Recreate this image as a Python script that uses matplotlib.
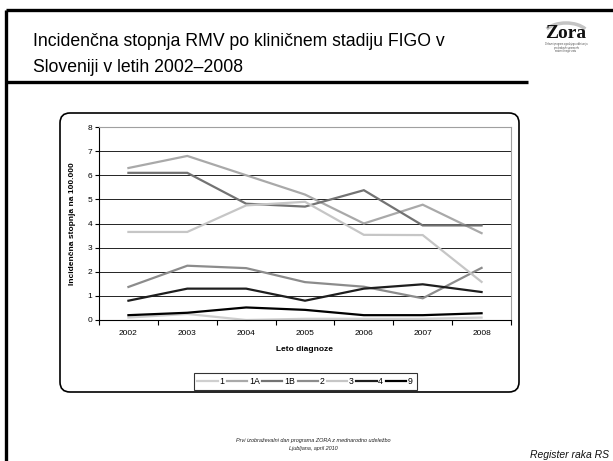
import matplotlib
matplotlib.use("Agg")
import matplotlib.pyplot as plt
from matplotlib.patches import FancyBboxPatch, Arc
import numpy as np

plt.rcParams['font.family'] = ['Liberation Sans', 'DejaVu Sans']

# ---- data ----
years = ["2002", "2003", "2004", "2005", "2006", "2007", "2008"]
series_names = ["1", "1A", "1B", "2", "3", "4", "9"]
s_1 = [0.10, 0.25, 0.00, 0.05, 0.05, 0.05, 0.10]
s_1A = [6.30, 6.80, 6.00, 5.20, 4.00, 4.78, 3.60]
s_1B = [6.10, 6.10, 4.82, 4.70, 5.38, 3.92, 3.92]
s_2 = [1.37, 2.25, 2.15, 1.57, 1.38, 0.90, 2.16]
s_3 = [3.65, 3.65, 4.75, 4.90, 3.53, 3.52, 1.58]
s_4 = [0.80, 1.30, 1.30, 0.80, 1.30, 1.48, 1.16]
s_9 = [0.20, 0.30, 0.52, 0.42, 0.20, 0.20, 0.28]
yticks = [0, 1, 2, 3, 4, 5, 6, 7, 8]

title_lines = ["Incidenčna stopnja RMV po kliničnem stadiju FIGO v",
               "Sloveniji v letih 2002–2008"]
ylabel = "Incidenčna stopnja na 100.000"
xlabel = "Leto diagnoze"
footer1 = "Prvi izobraževalni dan programa ZORA z mednarodno udeležbo"
footer2 = "Ljubljana, april 2010"
footer_right = "Register raka RS"

colors = ["#cfcfcf", "#a9a9a9", "#737373", "#8c8c8c", "#c6c6c6", "#1e1e1e", "#000000"]
all_series = [s_1, s_1A, s_1B, s_2, s_3, s_4, s_9]

W, H = 613, 461
fig = plt.figure(figsize=(W / 100, H / 100), dpi=100)

# overlay axes in pixel coordinates
bg = fig.add_axes([0, 0, 1, 1])
bg.set_xlim(0, W)
bg.set_ylim(H, 0)
bg.axis("off")

# slide frame
bg.plot([6, W], [10, 10], color="black", lw=2.4, solid_capstyle="butt")
bg.plot([6, 6], [10, H], color="black", lw=2.4, solid_capstyle="butt")
bg.plot([6, 528], [82, 82], color="black", lw=2.4, solid_capstyle="butt")

bg.text(33, 42, title_lines[0], fontsize=12.7, va="center", ha="left")
bg.text(33, 68, title_lines[1], fontsize=12.7, va="center", ha="left")

# logo
bg.add_patch(Arc((566, 36), 46, 26, theta1=200, theta2=340, color="#c4c4c4", lw=2.5))
bg.text(566, 33, "Zora", fontsize=14, family=["Liberation Serif", "DejaVu Serif"],
        fontweight="bold", ha="center", va="center", color="#111111")
bg.text(566, 44, "Državni program zgodnjega odkrivanja", fontsize=1.8, ha="center", va="center", color="#555555")
bg.text(566, 47.5, "predrakavih sprememb", fontsize=1.8, ha="center", va="center", color="#555555")
bg.text(566, 51, "materničnega vratu", fontsize=1.8, ha="center", va="center", color="#555555")

# chart box
bg.add_patch(FancyBboxPatch((60, 113), 459, 279, boxstyle="round,pad=0,rounding_size=10",
                            fc="white", ec="black", lw=1.2))

bg.text(313, 440, footer1, fontsize=4, style="italic", ha="center", va="center", color="#222222")
bg.text(313, 448, footer2, fontsize=4, style="italic", ha="center", va="center", color="#222222")
bg.text(609, 455, footer_right, fontsize=7.5, style="italic", ha="right", va="center", color="#111111")

# chart axes
L, R, T, B = 99, 511, 127, 320
ax = fig.add_axes([L / W, 1 - B / H, (R - L) / W, (B - T) / H])
ax.set_facecolor("white")
x = np.arange(len(years))
for name, vals, c in zip(series_names, all_series, colors):
    ax.plot(x, vals, color=c, lw=1.6, label=name, clip_on=False, solid_joinstyle="miter")

ax.set_xlim(-0.5, len(years) - 0.5)
ax.set_ylim(0, 8)
ax.set_yticks(yticks)
ax.set_yticklabels([str(v) for v in yticks], fontsize=6)
ax.set_xticks(x)
ax.set_xticklabels(years, fontsize=6)
ax.set_xticks(np.arange(-0.5, len(years), 1.0), minor=True)
ax.tick_params(axis="x", which="major", length=0, pad=7)
ax.tick_params(axis="x", which="minor", length=3.5, direction="out", width=0.8)
ax.tick_params(axis="y", length=3, width=0.8, pad=2)
ax.grid(axis="y", color="black", lw=0.6)
ax.set_axisbelow(True)
for s in ["top", "right"]:
    ax.spines[s].set_color("#a0a0a0")
    ax.spines[s].set_linewidth(0.8)
for s in ["left", "bottom"]:
    ax.spines[s].set_color("black")
    ax.spines[s].set_linewidth(0.8)

ax.set_ylabel(ylabel, fontsize=6, fontweight="bold", labelpad=8)
ax.set_xlabel(xlabel, fontsize=6, fontweight="bold", labelpad=7)

leg = ax.legend(loc="upper center", bbox_to_anchor=(0.5, -0.25), ncol=7, fontsize=6.3,
                frameon=True, fancybox=False, edgecolor="black", handlelength=2.3,
                handletextpad=0.2, columnspacing=0.3, borderpad=0.45)
leg.get_frame().set_linewidth(0.8)

fig.savefig("out.png", dpi=100)
